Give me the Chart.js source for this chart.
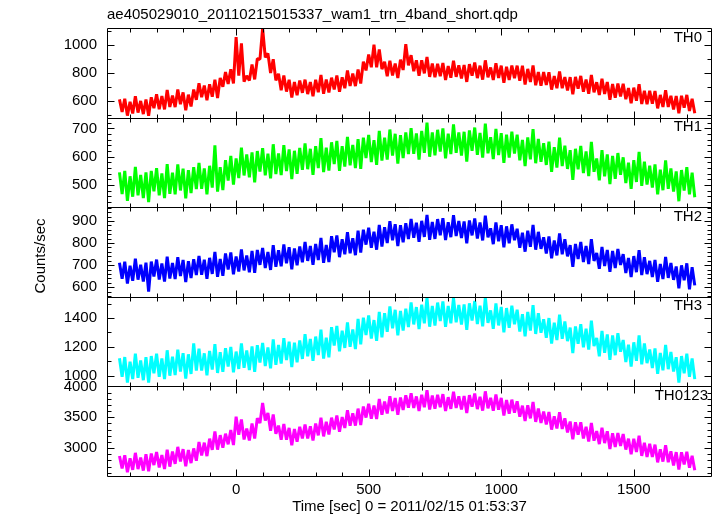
<!DOCTYPE html>
<html>
<head>
<meta charset="utf-8">
<script src="https://cdn.jsdelivr.net/npm/chart.js@4.4.1/dist/chart.umd.min.js"></script>
<style>
  html, body { margin: 0; padding: 0; background: #fff; }
  #wrap { width: 717px; height: 516px; }
</style>
</head>
<body>
<div id="wrap"><canvas id="lc" width="717" height="516"></canvas></div>
<script>
// light curve, 10 s bins starting at t = -440 s
var fileName = "ae405029010_20110215015337_wam1_trn_4band_short.qdp";
var bandNames = ["TH0", "TH1", "TH2", "TH3", "TH0123"];
var bandColours = ["#ff0000", "#00ff00", "#0000ff", "#00ffff", "#ff00ff"];
var tStart = -440, tStep = 10;

var th0 = [
  610,521,615,494,593,510,632,516,599,505,
  609,493,625,547,646,540,634,539,677,556,
  638,555,681,576,660,533,644,560,680,607,
  726,626,709,604,718,629,751,620,764,700,
  805,721,825,724,1055,780,1010,736,779,745,
  859,753,900,897,1118,910,939,799,897,746,
  793,675,781,666,750,623,734,640,745,657,
  751,648,734,632,750,661,785,650,752,660,
  765,681,780,664,768,690,817,706,794,705,
  824,723,880,817,931,840,1000,839,967,826,
  878,775,886,781,866,763,894,820,1005,853,
  926,811,889,779,890,796,913,771,866,768,
  865,776,870,749,848,765,887,771,854,760,
  856,735,862,779,873,762,851,751,889,768,
  838,749,869,763,851,728,843,748,852,762,
  851,744,850,716,828,735,853,711,806,708,
  805,713,804,680,776,690,809,690,770,673,
  769,646,771,686,778,665,752,650,785,661,
  733,641,758,649,734,608,720,622,723,632,
  721,612,691,582,694,601,719,577,672,575,
  671,579,670,546,642,556,675,556,636,539,
  634,511,636,551,642,528,614,511
];
var th1 = [
  545,468,550,444,531,459,564,464,536,454,
  545,440,550,478,560,464,541,454,574,469,
  544,467,573,481,558,453,553,472,563,486,
  578,487,559,467,568,491,640,477,563,482,
  588,516,603,502,594,525,632,534,608,527,
  615,510,620,548,630,534,611,524,644,539,
  612,535,641,549,626,521,621,540,631,554,
  647,556,628,536,637,560,666,546,632,551,
  651,574,656,550,637,565,670,570,642,560,
  662,557,667,595,677,581,658,571,691,586,
  667,590,696,604,681,576,676,595,686,609,
  701,610,682,590,691,614,720,600,686,605,
  695,618,700,594,681,609,714,614,686,604,
  688,583,693,621,703,607,684,597,717,612,
  669,592,698,606,683,578,678,597,688,611,
  678,587,659,567,668,591,697,577,663,582,
  648,571,653,547,634,562,667,567,639,557,
  623,518,628,556,638,542,619,532,652,547,
  594,517,623,531,608,503,603,522,613,536,
  598,507,579,487,588,511,617,497,583,502,
  568,491,573,467,554,482,587,487,559,477,
  548,443,553,481,563,467,544,457
];
var th2 = [
  711,638,715,616,697,629,729,634,702,625,
  711,580,716,648,725,634,707,625,738,639,
  709,637,736,650,723,623,718,641,727,655,
  742,656,724,638,733,660,760,647,728,651,
  753,680,757,658,739,671,771,676,744,667,
  764,665,769,701,778,687,760,678,791,692,
  767,695,794,708,781,681,776,699,785,713,
  805,719,787,701,796,723,823,710,791,714,
  831,758,835,736,817,749,849,754,822,745,
  856,757,861,793,870,779,852,770,883,784,
  872,800,899,813,886,786,881,804,890,818,
  910,824,892,806,901,828,928,815,896,819,
  909,836,913,814,895,827,927,832,900,823,
  898,799,903,835,912,821,894,812,925,826,
  867,795,894,808,881,781,876,799,885,813,
  865,779,847,761,856,783,883,770,851,774,
  826,753,830,731,812,744,844,749,817,740,
  791,692,796,728,805,714,787,705,818,719,
  755,683,782,696,769,669,764,687,773,701,
  750,664,732,646,741,668,768,655,736,659,
  719,646,723,624,705,637,737,642,710,633,
  694,595,699,631,708,590,690,608
];
var th3 = [
  1122,994,1130,954,1098,978,1154,986,1106,970,
  1129,953,1137,1017,1153,993,1121,977,1177,1001,
  1133,1005,1181,1029,1157,981,1149,1013,1225,1037,
  1188,1036,1156,1004,1172,1044,1220,1020,1164,1028,
  1192,1064,1200,1024,1168,1048,1224,1056,1176,1040,
  1204,1028,1212,1092,1228,1068,1196,1052,1252,1076,
  1213,1085,1261,1109,1237,1061,1229,1093,1245,1117,
  1288,1136,1256,1104,1272,1144,1320,1120,1264,1128,
  1337,1209,1345,1169,1313,1193,1369,1201,1321,1185,
  1394,1218,1402,1282,1418,1258,1386,1242,1442,1266,
  1433,1305,1481,1329,1457,1281,1449,1313,1465,1337,
  1508,1356,1476,1324,1492,1364,1540,1340,1484,1348,
  1507,1379,1515,1339,1483,1363,1539,1371,1491,1355,
  1494,1318,1502,1382,1518,1358,1486,1342,1542,1366,
  1453,1325,1501,1349,1477,1301,1469,1333,1485,1357,
  1458,1306,1426,1274,1442,1314,1490,1290,1434,1298,
  1392,1264,1400,1224,1368,1248,1424,1256,1376,1240,
  1334,1158,1342,1222,1358,1198,1326,1182,1382,1206,
  1263,1135,1311,1159,1287,1111,1279,1143,1295,1167,
  1248,1096,1216,1064,1232,1104,1280,1080,1224,1088,
  1182,1054,1190,1014,1158,1038,1214,1046,1166,1030,
  1129,953,1137,1017,1153,993,1121,977
];
var th0123 = [
  2873,2672,2885,2610,2835,2647,2923,2660,2848,2635,
  2900,2625,2913,2725,2938,2687,2888,2662,2975,2700,
  2945,2745,3020,2782,2983,2707,2970,2757,2995,2795,
  3098,2880,3088,2870,3153,2972,3268,2975,3210,3007,
  3233,3062,3295,3050,3510,3217,3463,3140,3318,3125,
  3400,3155,3483,3405,3730,3447,3568,3282,3545,3230,
  3365,3135,3390,3137,3328,3047,3310,3102,3345,3155,
  3383,3155,3353,3125,3398,3207,3493,3190,3425,3222,
  3493,3304,3529,3266,3503,3327,3615,3364,3564,3365,
  3640,3375,3673,3495,3718,3477,3688,3472,3795,3540,
  3755,3560,3840,3602,3813,3542,3820,3617,3855,3655,
  3888,3650,3838,3600,3863,3662,3938,3625,3850,3637,
  3863,3662,3875,3600,3825,3637,3913,3650,3838,3625,
  3845,3570,3858,3670,3883,3632,3833,3607,3920,3645,
  3815,3605,3870,3622,3813,3527,3780,3557,3785,3575,
  3758,3510,3688,3440,3693,3482,3748,3425,3640,3407,
  3593,3382,3585,3300,3515,3317,3583,3310,3483,3255,
  3430,3143,3419,3219,3420,3157,3346,3108,3409,3120,
  3275,3065,3330,3082,3273,2987,3240,3017,3245,3035,
  3228,2977,3152,2901,3151,2937,3200,2874,3086,2857,
  3068,2855,3056,2769,2982,2782,3046,2771,2947,2720,
  2935,2652,2932,2736,2941,2682,2875,2642
];
var series = [th0, th1, th2, th3, th0123];

// axis ranges / tick steps per panel
var xMin = -487, xMax = 1795, xMinor = 100, xMajor = 500;
var yMin = [480, 422, 556, 927, 2548];
var yMax = [1120, 738, 963, 1547, 4000];
var yMinor = [100, 20, 20, 100, 100];
var yMajor = [200, 100, 100, 200, 500];

var FONT = "'Liberation Sans', Arial, Helvetica, sans-serif";

function tickList(lo, hi, step) {
  var out = [];
  for (var v = Math.ceil(lo / step) * step; v <= hi; v += step) out.push({ value: v });
  return out;
}

var scales = {
  x: {
    type: 'linear', position: 'bottom', min: xMin, max: xMax,
    afterBuildTicks: function (s) { s.ticks = tickList(xMin, xMax, xMinor); },
    afterFit: function (s) { s.height = 40; },
    grid: { display: false, drawTicks: false },
    border: { display: false },
    ticks: {
      autoSkip: false, maxRotation: 0, padding: 5, color: '#000',
      font: { family: FONT, size: 15 },
      callback: function (v) { return v % xMajor === 0 ? String(v) : ''; }
    }
  }
};
// bottom panel first: stacked left axes are laid out last-defined on top
for (var k = 4; k >= 0; k--) {
  (function (k) {
    scales['y' + k] = {
      type: 'linear', position: 'left', stack: 'panels', stackWeight: 1,
      min: yMin[k], max: yMax[k],
      afterBuildTicks: function (s) { s.ticks = tickList(yMin[k], yMax[k], yMinor[k]); },
      afterFit: function (s) { s.width = 107; },
      grid: { display: false, drawTicks: false },
      border: { display: false },
      ticks: {
        autoSkip: false, padding: 10, color: '#000',
        font: { family: FONT, size: 15 },
        callback: function (v) { return v % yMajor[k] === 0 ? String(v) : ''; }
      }
    };
  })(k);
}

var datasets = series.map(function (vals, k) {
  return {
    label: bandNames[k],
    data: vals.map(function (v, i) { return { x: tStart + i * tStep, y: v }; }),
    yAxisID: 'y' + k,
    borderColor: bandColours[k],
    borderWidth: 3,
    borderJoinStyle: 'bevel',
    pointRadius: 0,
    tension: 0,
    fill: false
  };
});

var labelRight = [702, 702, 702, 702, 708];

var qdpFrame = {
  id: 'qdpFrame',
  afterDatasetsDraw: function (chart) {
    var ctx = chart.ctx, area = chart.chartArea, xs = chart.scales.x;
    ctx.save();
    ctx.strokeStyle = '#000';
    ctx.lineWidth = 1;
    for (var k = 0; k < 5; k++) {
      var ys = chart.scales['y' + k];
      var top = Math.round(ys.top) + 0.5, bot = Math.round(ys.bottom) + 0.5;
      var L = Math.round(area.left) + 0.5, R = Math.round(area.right) - 0.5;
      ctx.beginPath();
      ctx.rect(L, top, R - L, bot - top);
      // y ticks, both sides, inward
      ys.ticks.forEach(function (t) {
        var p = Math.round(ys.getPixelForValue(t.value)) + 0.5;
        var len = t.value % yMajor[k] === 0 ? 7 : 4;
        ctx.moveTo(L, p); ctx.lineTo(L + len, p);
        ctx.moveTo(R, p); ctx.lineTo(R - len, p);
      });
      // x ticks on top and bottom of each panel
      xs.ticks.forEach(function (t) {
        var p = Math.round(xs.getPixelForValue(t.value)) + 0.5;
        var len = t.value % xMajor === 0 ? 7 : 4;
        ctx.moveTo(p, top); ctx.lineTo(p, top + len);
        ctx.moveTo(p, bot); ctx.lineTo(p, bot - len);
      });
      ctx.stroke();
      // band name
      ctx.fillStyle = '#000';
      ctx.font = '15px ' + FONT;
      ctx.textAlign = 'right';
      ctx.textBaseline = 'top';
      ctx.fillText(bandNames[k], labelRight[k], ys.top + 2);
    }
    // file name
    ctx.textAlign = 'left';
    ctx.textBaseline = 'middle';
    ctx.fillText(fileName, area.left, 15);
    // x title
    ctx.textAlign = 'center';
    ctx.fillText('Time [sec] 0 = 2011/02/15 01:53:37', (area.left + area.right) / 2, 507);
    // y title
    ctx.translate(41, 256);
    ctx.rotate(-Math.PI / 2);
    ctx.fillText('Counts/sec', 0, 0);
    ctx.restore();
  }
};

new Chart(document.getElementById('lc'), {
  type: 'line',
  data: { datasets: datasets },
  options: {
    responsive: false,
    animation: false,
    events: [],
    layout: { padding: { top: 28, right: 5, left: 0, bottom: 0 } },
    plugins: { legend: { display: false }, tooltip: { enabled: false }, title: { display: false } },
    scales: scales
  },
  plugins: [qdpFrame]
});
</script>
</body>
</html>
